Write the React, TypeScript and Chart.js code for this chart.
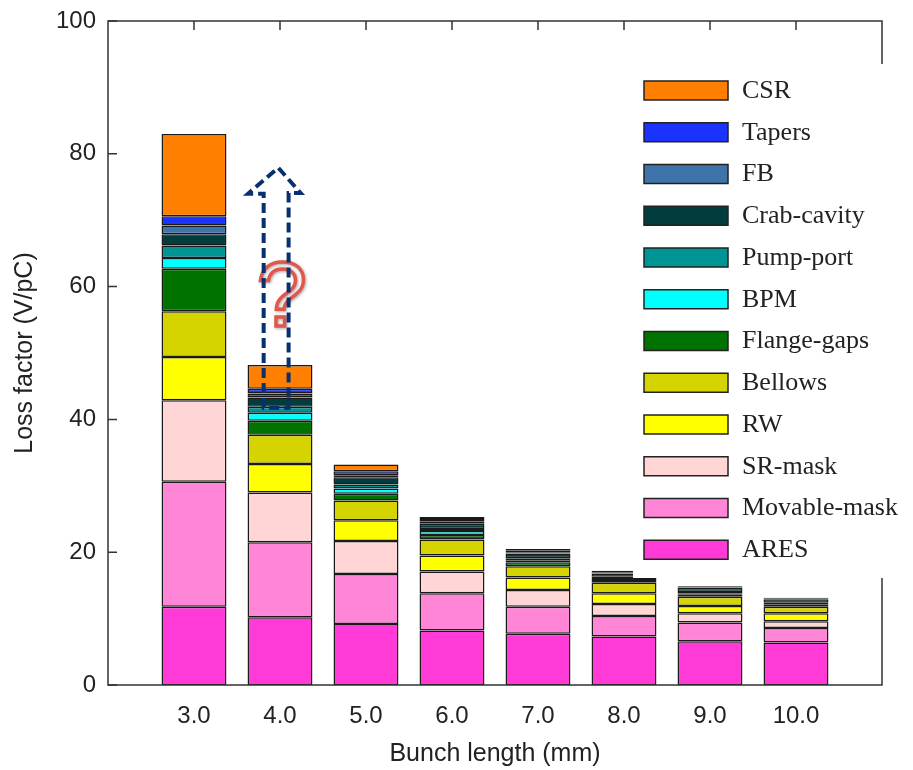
import { useEffect, useRef } from 'react';
import { Chart, registerables } from 'chart.js';

Chart.register(...registerables);

// Bunch length categories (mm)
const bunchLengths = [3, 4, 5, 6, 7, 8, 9, 10];
const yTickValues = [0, 20, 40, 60, 80, 100];

// Loss factor contributions (V/pC), bottom of stack first
const ares = [11.8, 10.2, 9.2, 8.2, 7.7, 7.3, 6.6, 6.4];
const movableMask = [18.8, 11.3, 7.5, 5.6, 4.1, 3.1, 2.8, 2.2];
const srMask = [12.3, 7.5, 5.0, 3.3, 2.5, 1.8, 1.4, 1.0];
const rw = [6.5, 4.3, 3.1, 2.4, 1.9, 1.6, 1.1, 1.2];
const bellows = [6.9, 4.4, 3.0, 2.4, 1.7, 1.6, 1.4, 1.0];
const flangeGaps = [6.4, 2.1, 1.0, 0.7, 0.6, 0.4, 0.3, 0.3];
const bpm = [1.6, 1.2, 0.8, 0.6, 0.3, 0.3, 0.2, 0.1];
const pumpPort = [1.9, 0.9, 0.6, 0.3, 0.3, 0.2, 0.2, 0.2];
const crabCavity = [1.7, 1.4, 1.1, 0.8, 0.7, 0.5, 0.6, 0.5];
const fb = [1.3, 0.6, 0.3, 0.3, 0.2, 0.1, 0.1, 0.1];
const tapers = [1.4, 0.7, 0.6, 0.4, 0.2, 0.1, 0.1, 0.1];
const csr = [12.4, 3.6, 1.0, 0.3, 0.3, 0.2, 0.1, 0.05];

const seriesLabels = ['ARES', 'Movable-mask', 'SR-mask', 'RW', 'Bellows', 'Flange-gaps', 'BPM', 'Pump-port', 'Crab-cavity', 'FB', 'Tapers', 'CSR'];
const seriesValues = [ares, movableMask, srMask, rw, bellows, flangeGaps, bpm, pumpPort, crabCavity, fb, tapers, csr];
const seriesColors = ['#ff3ad6', '#ff85d6', '#ffd5d5', '#ffff00', '#d6d400', '#007200', '#00ffff', '#009595', '#033c3c', '#3f74aa', '#1a33ff', '#ff7f00'];

export default function App() {
  const ref = useRef<HTMLCanvasElement>(null);

  useEffect(() => {
    document.body.style.margin = '0';
    const canvas = ref.current;
    if (!canvas) return;

    const decor = {
      id: 'decor',
      afterDatasetsDraw(chart: any) {
        const { ctx, chartArea, scales } = chart;
        const { left, right, top, bottom } = chartArea;
        const xs = scales.x;
        const ys = scales.y;
        ctx.save();
        // frame
        ctx.strokeStyle = '#333';
        ctx.lineWidth = 1.5;
        ctx.beginPath();
        ctx.moveTo(left, top);
        ctx.lineTo(right, top);
        ctx.lineTo(right, bottom);
        ctx.lineTo(left, bottom);
        ctx.closePath();
        ctx.stroke();
        // inward ticks
        ctx.beginPath();
        yTickValues.forEach((v) => {
          const py = ys.getPixelForValue(v);
          ctx.moveTo(left, py);
          ctx.lineTo(left + 9, py);
        });
        bunchLengths.forEach((v) => {
          const px = xs.getPixelForValue(v);
          ctx.moveTo(px, top);
          ctx.lineTo(px, top + 9);
        });
        ctx.stroke();

        // legend background
        ctx.fillStyle = '#fff';
        ctx.fillRect(633, 64, right - 633 + 4, 514);
        // legend entries (top of stack first)
        const n = seriesLabels.length;
        ctx.font = '26px "Liberation Serif"';
        ctx.textBaseline = 'middle';
        ctx.textAlign = 'left';
        for (let k = 0; k < n; k++) {
          const idx = n - 1 - k;
          const by = 81 + k * 41.75;
          ctx.fillStyle = seriesColors[idx];
          ctx.fillRect(644, by, 84, 19);
          ctx.strokeStyle = '#222';
          ctx.lineWidth = 1.5;
          ctx.strokeRect(644, by, 84, 19);
          ctx.fillStyle = '#222';
          ctx.fillText(seriesLabels[idx], 742, by + 10);
        }

        // question mark
        ctx.save();
        ctx.font = '90px "Liberation Sans"';
        ctx.textAlign = 'center';
        ctx.textBaseline = 'alphabetic';
        ctx.shadowColor = 'rgba(0,0,0,0.35)';
        ctx.shadowBlur = 3;
        ctx.shadowOffsetX = 1;
        ctx.shadowOffsetY = 1;
        ctx.strokeStyle = '#e0574c';
        ctx.lineWidth = 3.5;
        ctx.strokeText('?', xs.getPixelForValue(4.02), ys.getPixelForValue(54.0));
        ctx.restore();

        // dashed arrow
        const P = (vx: number, vy: number) => [xs.getPixelForValue(vx), ys.getPixelForValue(vy)];
        const pts = [P(3.81, 41.7), P(3.81, 74.0), P(3.63, 74.0), P(3.98, 77.9), P(4.24, 74.1), P(4.10, 74.1), P(4.10, 41.7)];
        ctx.strokeStyle = '#08306e';
        ctx.lineWidth = 4;
        ctx.setLineDash([10, 5]);
        ctx.beginPath();
        ctx.moveTo(pts[0][0], pts[0][1]);
        for (let i = 1; i < pts.length; i++) ctx.lineTo(pts[i][0], pts[i][1]);
        ctx.closePath();
        ctx.stroke();
        ctx.setLineDash([]);
        ctx.restore();
      },
    };

    const chart = new Chart(canvas, {
      type: 'bar',
      data: {
        datasets: seriesLabels.map((label, i) => ({
          label,
          data: bunchLengths.map((x, j) => ({ x, y: seriesValues[i][j] })),
          backgroundColor: seriesColors[i],
          borderColor: '#1a1a1a',
          borderWidth: 1.5,
          borderSkipped: false,
          barPercentage: 0.755,
          categoryPercentage: 1,
        })),
      },
      options: {
        responsive: false,
        animation: false,
        devicePixelRatio: 1,
        layout: { padding: { top: 21, right: 31, left: 0, bottom: 0 } },
        plugins: { legend: { display: false }, tooltip: { enabled: false } },
        scales: {
          x: {
            type: 'linear',
            stacked: true,
            offset: false,
            min: 2,
            max: 11,
            grid: { display: false, drawTicks: false },
            border: { display: false },
            ticks: {
              stepSize: 1,
              autoSkip: false,
              maxRotation: 0,
              padding: 17,
              color: '#222',
              font: { family: '"Liberation Sans"', size: 24 },
              callback: (v: any) => (bunchLengths.includes(Number(v)) ? Number(v).toFixed(1) : ''),
            },
            title: {
              display: true,
              text: 'Bunch length (mm)',
              color: '#222',
              font: { family: '"Liberation Sans"', size: 25 },
              padding: { top: 0, bottom: 1 },
            },
            afterFit: (s: any) => {
              s.height = 85;
              s.paddingLeft = 0;
              s.paddingRight = 0;
            },
          },
          y: {
            stacked: true,
            min: 0,
            max: 100,
            grid: { display: false, drawTicks: false },
            border: { display: false },
            ticks: {
              stepSize: 20,
              padding: 12,
              color: '#222',
              font: { family: '"Liberation Sans"', size: 24 },
            },
            title: {
              display: true,
              text: 'Loss factor (V/pC)',
              color: '#222',
              font: { family: '"Liberation Sans"', size: 25 },
              padding: { top: 10, bottom: 0 },
            },
            afterFit: (s: any) => {
              s.width = 108;
              s.paddingTop = 0;
              s.paddingBottom = 0;
            },
          },
        },
      },
      plugins: [decor],
    });

    return () => chart.destroy();
  }, []);

  return (
    <div style={{ width: 913, height: 770, position: 'relative' }}>
      <canvas ref={ref} width={913} height={770} style={{ display: 'block' }} />
    </div>
  );
}
